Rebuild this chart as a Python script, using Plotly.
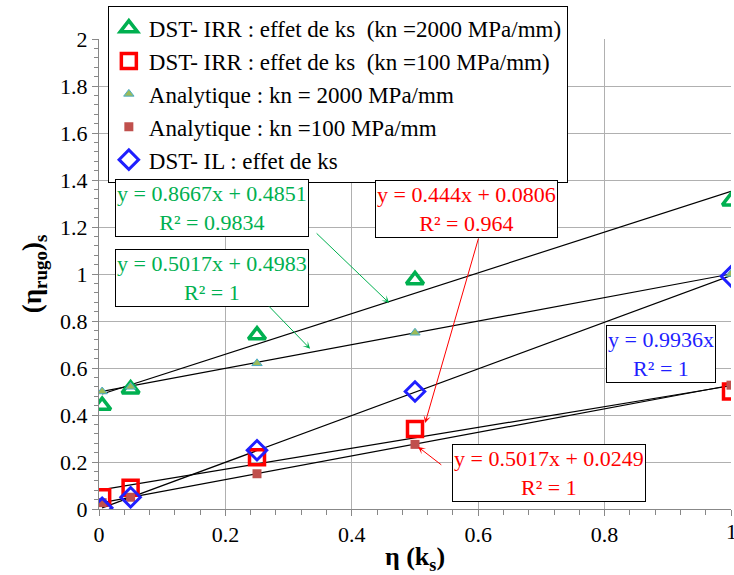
import plotly.graph_objects as go

x_vals = [0.005, 0.05, 0.25, 0.5, 1.0]
irr_2000 = [0.44, 0.51, 0.74, 0.975, 1.31]
irr_100 = [0.05, 0.09, 0.22, 0.34, 0.50]
ana_2000 = [0.50, 0.52, 0.62, 0.75, 1.00]
ana_100 = [0.027, 0.05, 0.15, 0.275, 0.527]
il_vals = [0.005, 0.05, 0.25, 0.50, 0.99]

names = ["DST- IRR : effet de ks\u00a0\u00a0(kn =2000 MPa/mm)",
         "DST- IRR : effet de ks\u00a0\u00a0(kn =100 MPa/mm)",
         "Analytique : kn = 2000 MPa/mm",
         "Analytique : kn =100 MPa/mm",
         "DST- IL : effet de ks"]

# trendline coefficients (slope, intercept) as displayed
fit_slopes = [0.8667, 0.444, 0.5017, 0.5017, 0.9936]
fit_inter = [0.4851, 0.0806, 0.4983, 0.0249, 0.0]
fit_labels = ["y = 0.8667x + 0.4851<br>R² = 0.9834",
              "y = 0.444x + 0.0806<br>R² = 0.964",
              "y = 0.5017x + 0.4983<br>R² = 1",
              "y = 0.5017x + 0.0249<br>R² = 1",
              "y = 0.9936x<br>R² = 1"]

FONT = "Liberation Serif"
fig = go.Figure()

# trendlines
for s, b in zip(fit_slopes, fit_inter):
    xs = [x_vals[0], x_vals[-1]]
    fig.add_trace(go.Scatter(x=xs, y=[s * v + b for v in xs], mode="lines",
                             line=dict(color="black", width=1.2), showlegend=False,
                             hoverinfo="skip"))

fig.add_trace(go.Scatter(x=x_vals, y=irr_2000, mode="markers", name=names[0],
                         marker=dict(symbol="triangle-up-open", size=15, color="#00B050",
                                     line=dict(width=3.5, color="#00B050"))))
fig.add_trace(go.Scatter(x=x_vals, y=irr_100, mode="markers", name=names[1],
                         marker=dict(symbol="square-open", size=15, color="#FF0000",
                                     line=dict(width=3.5, color="#FF0000"))))
fig.add_trace(go.Scatter(x=x_vals, y=ana_2000, mode="markers", name=names[2],
                         marker=dict(symbol="triangle-up", size=9, color="#9BBB59",
                                     line=dict(width=1, color="#4BACC6"))))
fig.add_trace(go.Scatter(x=x_vals, y=ana_100, mode="markers", name=names[3],
                         marker=dict(symbol="square", size=9, color="#C0504D",
                                     line=dict(width=0))))
fig.add_trace(go.Scatter(x=x_vals, y=il_vals, mode="markers", name=names[4],
                         marker=dict(symbol="diamond-open", size=15, color="#1F1FFF",
                                     line=dict(width=3, color="#1F1FFF"))))

# label boxes: (label index, x, y, color)
boxes = [(0, 0.179, 1.281, "#00B050"),
         (2, 0.179, 0.983, "#00B050"),
         (1, 0.581, 1.277, "#FF0000"),
         (4, 0.889, 0.660, "#1F1FFF"),
         (3, 0.712, 0.153, "#FF0000")]
for i, bx, by, col in boxes:
    fig.add_annotation(x=bx, y=by, xref="x", yref="y", text=fit_labels[i], showarrow=False,
                       font=dict(family=FONT, size=22, color=col), bgcolor="white",
                       bordercolor="black", borderwidth=1, borderpad=1, align="center")

# arrows: head (x,y), tail (ax,ay), color
arrows = [(0.459, 0.877, 0.342, 1.179, "#00B050"),
          (0.334, 0.682, 0.267, 0.868, "#00B050"),
          (0.516, 0.366, 0.601, 1.157, "#FF0000"),
          (0.505, 0.264, 0.544, 0.183, "#FF0000")]
for hx, hy, tx, ty, col in arrows:
    fig.add_annotation(x=hx, y=hy, ax=tx, ay=ty, xref="x", yref="y", axref="x", ayref="y",
                       text="", showarrow=True, arrowhead=3, arrowsize=1.2, arrowwidth=1,
                       arrowcolor=col)

# last x tick label (drawn at the very edge, partly clipped as in the original)
fig.add_annotation(x=1, y=0, xref="x", yref="paper", text="1", showarrow=False,
                   yanchor="top", xanchor="center", yshift=-8,
                   font=dict(family=FONT, size=22, color="black"))

fig.update_layout(
    width=734, height=575,
    margin=dict(l=99, r=3, t=39, b=66),
    paper_bgcolor="white", plot_bgcolor="white",
    font=dict(family=FONT, size=22, color="black"),
    showlegend=True,
    legend=dict(x=0.014, y=1.071, xanchor="left", yanchor="top",
                bgcolor="white", bordercolor="black", borderwidth=1,
                font=dict(family=FONT, size=23, color="black"), tracegroupgap=0,
                itemwidth=30),
    xaxis=dict(range=[0, 1], dtick=0.2, showgrid=True, gridcolor="#B0B0B0",
               showline=True, linecolor="#888888", zeroline=False,
               ticks="outside", ticklen=6, tickcolor="#888888",
               tickfont=dict(family=FONT, size=22, color="black"),
               tickformat="~g",
               minor=dict(dtick=0.04, ticks="outside", ticklen=5, tickcolor="#888888"),
               title=dict(text="<b>η (k<sub>s</sub>)</b>",
                          font=dict(family=FONT, size=26, color="black"), standoff=0)),
    yaxis=dict(range=[0, 2], dtick=0.2, showgrid=True, gridcolor="#B0B0B0",
               showline=True, linecolor="#888888", zeroline=False,
               ticks="outside", ticklen=6, tickcolor="#888888",
               tickfont=dict(family=FONT, size=22, color="black"),
               tickformat="~g",
               minor=dict(dtick=0.04, ticks="outside", ticklen=4, tickcolor="#888888"),
               title=dict(text="<b>(η<sub>rugo</sub>)<sub>s</sub></b>",
                          font=dict(family=FONT, size=27, color="black"), standoff=10)),
)

fig.write_html("out.html", config={"displayModeBar": False},
               post_script="document.body.style.margin='0';document.body.style.overflow='hidden';")
